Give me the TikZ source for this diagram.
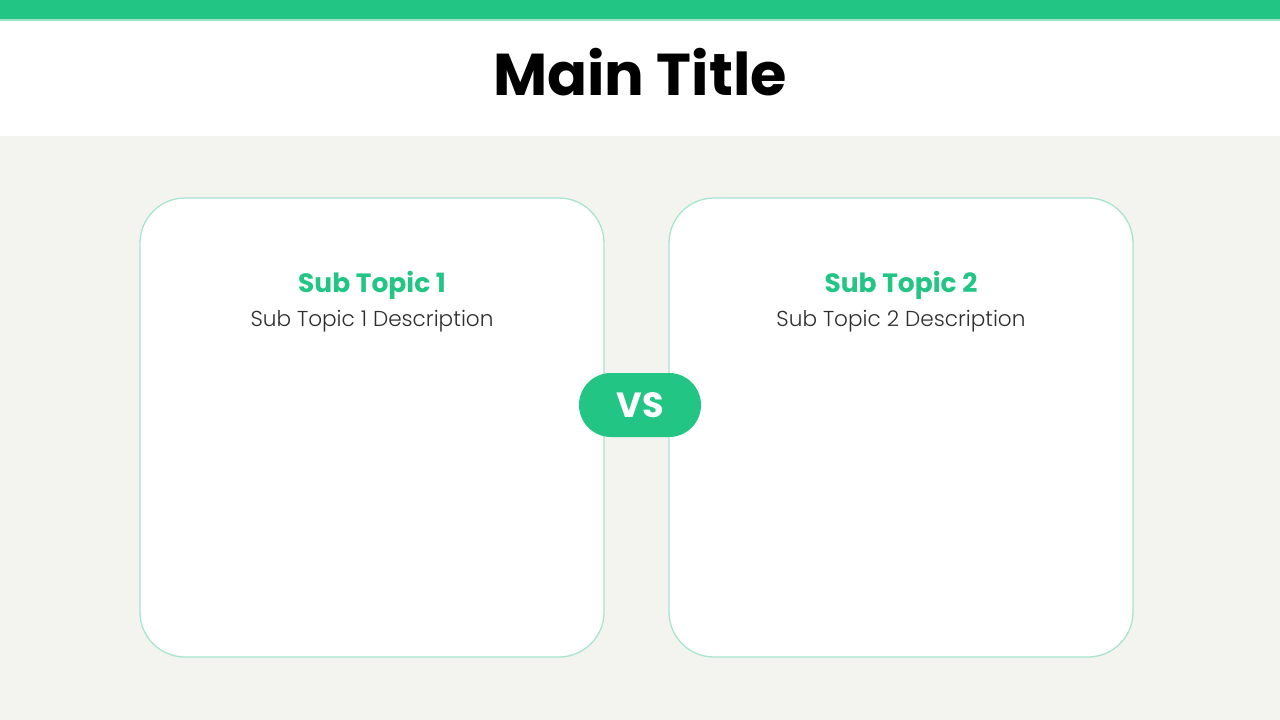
\documentclass[tikz,border=0pt]{standalone}
\usepackage{fontspec}
\setmainfont{Poppins}
\newfontfamily\thinfont{Poppins}[UprightFont=* Light]
\definecolor{brandgreen}{HTML}{22C584}
\definecolor{mint}{HTML}{A9E4CF}
\definecolor{canvas}{HTML}{F3F4EF}
\definecolor{desc}{HTML}{2E2E2E}
\begin{document}
\begin{tikzpicture}[x=1pt,y=-1pt,
  card/.style={draw=mint, line width=1.3pt, fill=white, rounded corners=45pt},
  titletext/.style={font=\fontsize{59}{66}\selectfont\bfseries, text=black, anchor=base},
  subtitle/.style={font=\fontsize{26.5}{30}\selectfont\bfseries, text=brandgreen, anchor=base},
  subdesc/.style={font=\thinfont\fontsize{21.6}{25}\selectfont, text=desc, anchor=base},
  pill/.style={fill=brandgreen, rounded corners=32pt, minimum width=122pt, minimum height=64pt, inner sep=0pt, text=white, font=\fontsize{35}{40}\selectfont\bfseries}
]
\useasboundingbox (0,0) rectangle (1280,720);
% background
\fill[canvas] (0,0) rectangle (1280,720);
\fill[white] (0,0) rectangle (1280,136);
\fill[brandgreen] (0,0) rectangle (1280,19);
\fill[brandgreen!45] (0,19) rectangle (1280,20.5);
% title
\node[titletext] (title) at (640,95) {Main Title};
% cards
\draw[card] (140,198) rectangle (604,657);
\draw[card] (669,198) rectangle (1133,657);
\node[subtitle] (t1) at (372,292) {Sub Topic 1};
\node[subdesc] (d1) at (372,326) {Sub Topic 1 Description};
\node[subtitle] (t2) at (901,292) {Sub Topic 2};
\node[subdesc] (d2) at (901,326) {Sub Topic 2 Description};
% VS badge
\node[pill] (vs) at (640,405) {VS};
\end{tikzpicture}
\end{document}
